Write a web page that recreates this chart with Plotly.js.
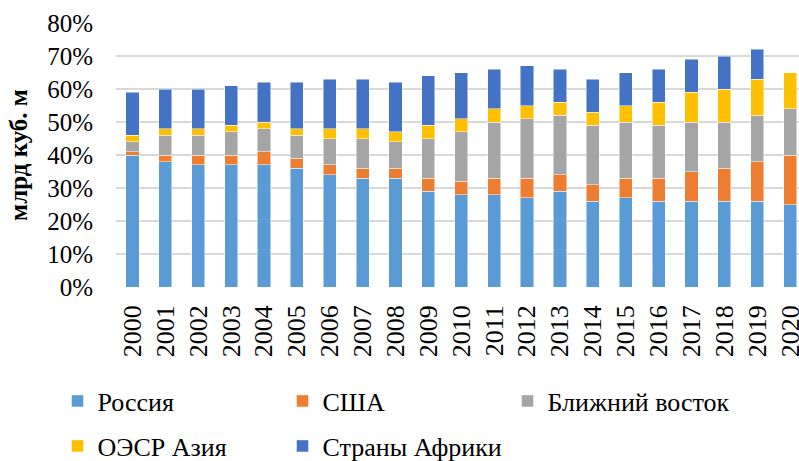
<!DOCTYPE html>
<html>
<head>
<meta charset="utf-8">
<script src="https://cdn.plot.ly/plotly-3.0.1.min.js"></script>
<style>html,body{margin:0;padding:0;background:#fff}#chart{width:799px;height:461px}</style>
</head>
<body>
<div id="chart"></div>
<script>
const years = ['2000','2001','2002','2003','2004','2005','2006','2007','2008','2009','2010','2011','2012','2013','2014','2015','2016','2017','2018','2019','2020'];
const russia = [40,38,37,37,37,36,34,33,33,29,28,28,27,29,26,27,26,26,26,26,25];
const usa    = [1,2,3,3,4,3,3,3,3,4,4,5,6,5,5,6,7,9,10,12,15];
const middleEast = [3,6,6,7,7,7,8,9,8,12,15,17,18,18,18,17,16,15,14,14,14];
const oecdAsia = [2,2,2,2,2,2,3,3,3,4,4,4,4,4,4,5,7,9,10,11,11];
const africa = [13,12,12,12,12,14,15,15,15,15,14,12,12,10,10,10,10,10,10,9,0];

const seriesNames = ['Россия','США','Ближний восток','ОЭСР Азия','Страны Африки'];
const seriesData = [russia, usa, middleEast, oecdAsia, africa];
const colors = ['#5B9BD5','#ED7D31','#A5A5A5','#FFC000','#4472C4'];
const legendIds = ['legend','legend','legend','legend2','legend2'];

const FONT = 'Liberation Serif, Times New Roman, serif';

const traces = seriesData.map((vals, i) => ({
  type: 'bar',
  name: seriesNames[i],
  x: years,
  y: vals,
  legend: legendIds[i],
  marker: {color: colors[i], line: {color: 'rgba(255,255,255,0.6)', width: 0.8}},
  hoverinfo: 'x+y+name'
}));

const legendCommon = {
  orientation: 'h',
  xref: 'container', yref: 'container',
  xanchor: 'left', yanchor: 'middle',
  font: {family: FONT, size: 26, color: '#000'},
  entrywidth: 180, entrywidthmode: 'pixels',
  bgcolor: 'rgba(0,0,0,0)', borderwidth: 0,
  traceorder: 'normal'
};

const layout = {
  width: 799, height: 461,
  margin: {l: 116, r: 0, t: 23, b: 174},
  paper_bgcolor: '#fff', plot_bgcolor: '#fff',
  barmode: 'stack',
  bargap: 0.6,
  font: {family: FONT, color: '#000'},
  showlegend: true,
  legend: Object.assign({}, legendCommon, {x: 0.072, y: 1 - 401/461}),
  legend2: Object.assign({}, legendCommon, {x: 0.072, y: 1 - 446/461}),
  xaxis: {
    type: 'category',
    range: [-0.5, 20.27],
    tickangle: -90,
    tickfont: {family: FONT, size: 26, color: '#000'},
    showgrid: false, zeroline: false, showline: false,
    ticks: '', ticklabelstandoff: 12,
    automargin: false, fixedrange: true
  },
  yaxis: {
    range: [0, 80],
    dtick: 10,
    ticksuffix: '%',
    tickfont: {family: FONT, size: 25, color: '#000'},
    showgrid: true, gridcolor: '#D9D9D9', gridwidth: 1.5,
    zeroline: false, showline: false, ticks: '',
    ticklabelstandoff: 22,
    automargin: false, fixedrange: true,
    title: {text: 'млрд куб. м', font: {family: FONT, size: 25, color: '#000', weight: 'bold'}, standoff: 12}
  }
};

Plotly.newPlot('chart', traces, layout, {displayModeBar: false, staticPlot: true});
</script>
</body>
</html>
